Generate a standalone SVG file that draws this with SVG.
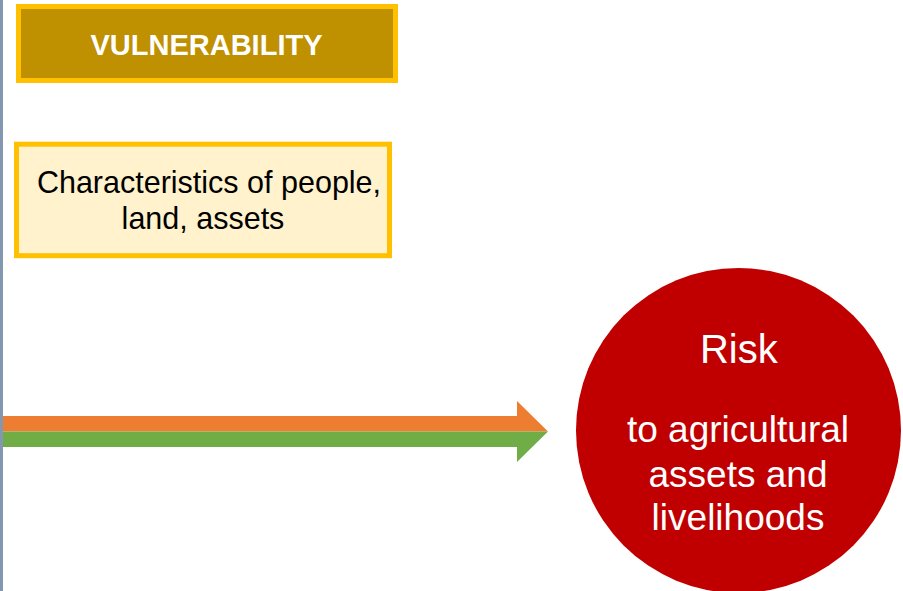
<svg xmlns="http://www.w3.org/2000/svg" width="903" height="591" viewBox="0 0 903 591">
<style>
.t{font-family:"Liberation Sans",Arial,sans-serif;text-anchor:middle}
.box{stroke:#FFC000;stroke-width:5}
</style>
<rect x="0" y="0" width="903" height="591" fill="#FFFFFF"/>
<rect id="axis" x="0" y="0" width="3" height="591" fill="#8497B0"/>
<g id="vulnerability">
<rect class="box" x="18.5" y="6.5" width="377" height="74" fill="#BF9000"/>
<text class="t" x="206.5" y="55" font-size="29" font-weight="bold" fill="#FFFFFF">VULNERABILITY</text>
</g>
<g id="characteristics">
<rect class="box" x="16.5" y="144.2" width="373" height="111.5" fill="#FFF2CC"/>
<text class="t" x="209" y="193" font-size="30.5" fill="#000000">Characteristics of people,</text>
<text class="t" x="203" y="229" font-size="30.5" fill="#000000">land, assets</text>
</g>
<g id="connectors">
<polygon points="3,416 517,416 517,401 548,431.5 3,431.5" fill="#ED7D31"/>
<polygon points="3,431.5 548,431.5 517,462 517,447 3,447" fill="#70AD47"/>
</g>
<g id="risk">
<circle cx="738.5" cy="430.5" r="162.5" fill="#C00000"/>
<text class="t" x="738.8" y="363" font-size="40" fill="#FFFFFF">Risk</text>
<text class="t" x="738" y="441.7" font-size="37" fill="#FFFFFF">to agricultural</text>
<text class="t" x="738" y="486.5" font-size="37" fill="#FFFFFF">assets and</text>
<text class="t" x="738" y="530" font-size="37" fill="#FFFFFF">livelihoods</text>
</g>
</svg>
